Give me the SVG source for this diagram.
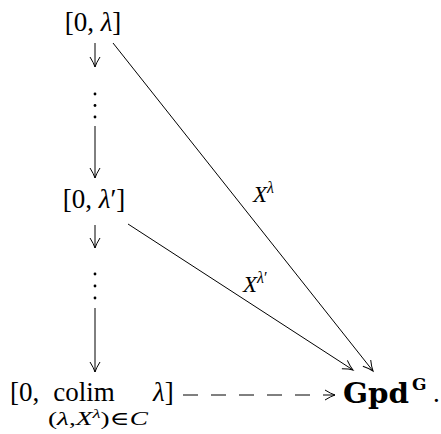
<svg xmlns="http://www.w3.org/2000/svg" width="441" height="434" viewBox="0 0 441 434">
<style>
text{font-family:"Liberation Serif","DejaVu Serif",serif;fill:#000;}
.m{font-size:27px;}
.i{font-style:italic;}
.b{font-weight:bold;font-family:"DejaVu Serif","Liberation Serif",serif;}
.ln{stroke:#000;stroke-width:1;fill:none;}
.dash{stroke-dasharray:15 13;}
</style>
<defs>
<marker id="ah" viewBox="-12 -7 14 14" refX="0" refY="0" markerWidth="14" markerHeight="14" markerUnits="userSpaceOnUse" orient="auto">
<path d="M-10,-5 Q-4,-1.2 0,0 Q-4,1.2 -10,5" fill="none" stroke="#000" stroke-width="1"/>
</marker>
</defs>
<g id="node-top">
<text class="m" x="93" y="31" text-anchor="middle">[0, <tspan class="i">λ</tspan>]</text>
</g>
<g id="node-mid">
<text class="m" x="94" y="208" text-anchor="middle">[0, <tspan class="i">λ</tspan>′]</text>
</g>
<g id="node-colim">
<text class="m" x="10" y="401">[0,</text>
<text class="m" x="84" y="401" text-anchor="middle">colim</text>
<text x="48" y="425" font-size="19" textLength="100" lengthAdjust="spacingAndGlyphs">(<tspan class="i">λ</tspan>,<tspan class="i">X</tspan><tspan class="i" font-size="13" dy="-7">λ</tspan><tspan dy="7">)∈</tspan><tspan class="i">C</tspan></text>
<text class="m" x="153" y="401"><tspan class="i">λ</tspan>]</text>
</g>
<g id="node-gpd">
<text class="b" x="343" y="403" font-size="27" textLength="66" lengthAdjust="spacingAndGlyphs">Gpd</text>
<text class="b" x="412" y="390" font-size="17">G</text>
<text class="m" x="433" y="402">.</text>
</g>
<g id="dots">
<circle cx="95" cy="94" r="1.4"/>
<circle cx="95" cy="105.5" r="1.4"/>
<circle cx="95" cy="117" r="1.4"/>
<circle cx="95" cy="274" r="1.4"/>
<circle cx="95" cy="286" r="1.4"/>
<circle cx="95" cy="298" r="1.4"/>
</g>
<g id="connectors">
<line class="ln" x1="95" y1="43" x2="95" y2="67" marker-end="url(#ah)"/>
<line class="ln" x1="95" y1="126" x2="95" y2="178" marker-end="url(#ah)"/>
<line class="ln" x1="95" y1="225" x2="95" y2="248" marker-end="url(#ah)"/>
<line class="ln" x1="95" y1="308" x2="95" y2="372" marker-end="url(#ah)"/>
<line class="ln" x1="113" y1="43" x2="373" y2="371" marker-end="url(#ah)"/>
<line class="ln" x1="128" y1="224" x2="353" y2="370" marker-end="url(#ah)"/>
<line class="ln dash" x1="183" y1="395" x2="335" y2="395" marker-end="url(#ah)"/>
</g>
<g id="labels">
<text class="i" x="253" y="202" font-size="23">X<tspan font-size="16" dy="-9">λ</tspan></text>
<text class="i" x="243" y="292" font-size="23">X<tspan font-size="16" dy="-9">λ</tspan><tspan font-style="normal" font-size="16">′</tspan></text>
</g>
</svg>
